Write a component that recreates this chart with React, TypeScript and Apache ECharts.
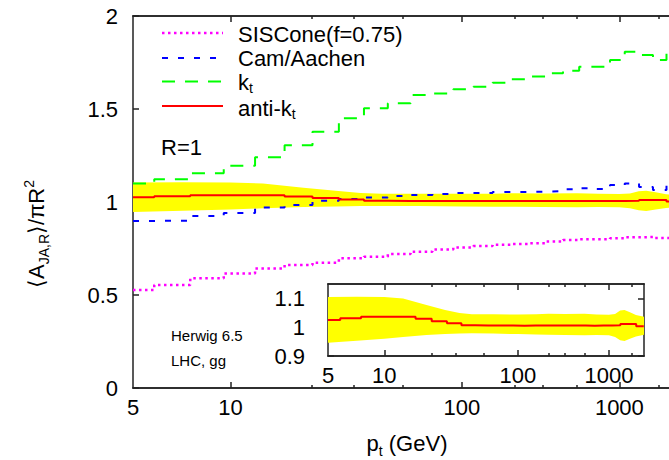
import React, { useEffect, useRef } from "react";
import * as echarts from "echarts";

// x axis is linear in ln ln(pt / LAMBDA)
const LAMBDA = 0.2;
const X_MIN = 5;
const X_MAX = 3000;

const binEdges = [5, 5.75, 7.39, 9.49, 12.18, 15.64, 20.09, 25.79, 33.12, 42.52, 54.6, 70.11, 90.02, 115.58, 148.41, 190.57, 244.69, 314.19, 403.43, 518.01, 665.14, 854.06, 1096.63, 1408.1, 1808.04, 2321.57, 2980.96];

const sisconeVals = [0.527, 0.554, 0.59, 0.616, 0.643, 0.661, 0.674, 0.697, 0.706, 0.72, 0.733, 0.745, 0.756, 0.763, 0.77, 0.774, 0.778, 0.787, 0.796, 0.8, 0.8, 0.805, 0.81, 0.812, 0.806, 0.805];
const camVals = [0.898, 0.9, 0.925, 0.941, 0.971, 0.984, 1.007, 1.016, 1.024, 1.032, 1.038, 1.043, 1.048, 1.048, 1.054, 1.054, 1.056, 1.059, 1.068, 1.074, 1.07, 1.091, 1.1, 1.081, 1.065, 1.109];
const ktVals = [1.1, 1.122, 1.154, 1.195, 1.24, 1.305, 1.378, 1.45, 1.504, 1.531, 1.575, 1.583, 1.606, 1.62, 1.641, 1.66, 1.675, 1.692, 1.706, 1.727, 1.727, 1.763, 1.808, 1.79, 1.763, 1.808];
const antiktVals = [1.025, 1.031, 1.036, 1.036, 1.036, 1.029, 1.021, 1.014, 1.007, 1.006, 1.006, 1.006, 1.005, 1.006, 1.006, 1.006, 1.006, 1.006, 1.006, 1.005, 1.006, 1.006, 1.007, 1.011, 1.011, 1.003];

const bandPt = [5, 7, 10, 13, 18.5, 25, 32, 40, 60, 100, 150, 200, 300, 500, 700, 1000, 1200, 1400, 1600, 1900, 2300, 3000];
const bandHigh = [1.105, 1.106, 1.105, 1.1, 1.077, 1.06, 1.049, 1.045, 1.045, 1.044, 1.045, 1.047, 1.046, 1.047, 1.044, 1.043, 1.046, 1.058, 1.06, 1.052, 1.042, 1.036];
const bandLow = [0.946, 0.953, 0.96, 0.966, 0.973, 0.976, 0.978, 0.979, 0.978, 0.976, 0.975, 0.974, 0.973, 0.972, 0.973, 0.972, 0.966, 0.955, 0.952, 0.96, 0.968, 0.974];

const xLabelValues = [5, 10, 100, 1000];
const xMajorTickValues = [10, 100, 1000];
const xMinorTickValues = [20, 30, 50, 200, 300, 500, 2000];
const yMainTicks = [0, 0.5, 1, 1.5, 2];
const yInsetTicks = [0.9, 1, 1.1];

// token lists: [text, kind] where kind n = normal, s = subscript, p = superscript
type Tok = [string, "n" | "s" | "p"];
const legendRows: { label: Tok[]; color: string; dash: number[] | null }[] = [
  { label: [["SISCone(f=0.75)", "n"]], color: "#ff00ff", dash: [2.5, 3.5] },
  { label: [["Cam/Aachen", "n"]], color: "#0000ff", dash: [6, 10] },
  { label: [["k", "n"], ["t", "s"]], color: "#00ff00", dash: [13, 10] },
  { label: [["anti-k", "n"], ["t", "s"]], color: "#ff0000", dash: null },
];
const xTitle: Tok[] = [["p", "n"], ["t", "s"], [" (GeV)", "n"]];
const yTitle: Tok[] = [["\u27E8A", "n"], ["JA,R", "s"], ["\u27E9/\u03C0R", "n"], ["2", "p"]];

const FONT_NAME = "Liberation Sans";
const FONT = "'Liberation Sans', Arial, Helvetica, sans-serif";
const AXIS_COLOR = "#222";
const MAIN_SIZE = 22;
const SUB_SIZE = 14;

const u = (p: number) => Math.log(Math.log(p / LAMBDA));
const inv = (v: number) => LAMBDA * Math.exp(Math.exp(v));

const axisLineStyle = { color: AXIS_COLOR, width: 1.5 };

function xAxisSet(gridIndex: number) {
  const base = {
    type: "value",
    gridIndex,
    min: u(X_MIN),
    max: u(X_MAX),
    splitLine: { show: false },
    axisLine: { show: true, onZero: false, lineStyle: axisLineStyle },
  };
  const major = { show: true, inside: true, length: 6, customValues: xMajorTickValues.map(u), lineStyle: axisLineStyle };
  const minor = { show: true, inside: true, length: 3, customValues: xMinorTickValues.map(u), lineStyle: axisLineStyle };
  const noLabel = { show: false };
  return [
    {
      ...base,
      position: "bottom",
      axisTick: major,
      axisLabel: {
        show: true,
        customValues: xLabelValues.map(u),
        formatter: (v: number) => String(Math.round(inv(v))),
        margin: 8,
        fontSize: MAIN_SIZE,
        fontFamily: FONT,
        color: "#000",
      },
    },
    { ...base, position: "bottom", axisTick: minor, axisLabel: noLabel },
    { ...base, position: "top", axisTick: major, axisLabel: noLabel },
    { ...base, position: "top", axisTick: minor, axisLabel: noLabel },
  ];
}

function yAxisSet(gridIndex: number, min: number, max: number, ticks: number[], margin: number) {
  const base = {
    type: "value",
    gridIndex,
    min,
    max,
    splitLine: { show: false },
    axisLine: { show: true, onZero: false, lineStyle: axisLineStyle },
    axisTick: { show: true, inside: true, length: 6, customValues: ticks, lineStyle: axisLineStyle },
  };
  return [
    {
      ...base,
      position: "left",
      axisLabel: {
        show: true,
        customValues: ticks,
        margin,
        fontSize: MAIN_SIZE,
        fontFamily: FONT,
        color: "#000",
        formatter: (v: number) => String(Math.round(v * 100) / 100),
      },
    },
    { ...base, position: "right", axisLabel: { show: false } },
  ];
}

const stepData = (vals: number[]) => [
  ...vals.map((v, i) => [u(binEdges[i]), v]),
  [u(binEdges[vals.length]), vals[vals.length - 1]],
];

function bandSeries(xAxisIndex: number, yAxisIndex: number) {
  return {
    type: "custom",
    xAxisIndex,
    yAxisIndex,
    silent: true,
    z: 1,
    data: bandPt.map((p, i) => [u(p), bandLow[i], bandHigh[i]]),
    encode: { x: 0, y: [1, 2] },
    renderItem: (params: any, api: any) => {
      if (params.dataIndex !== 0) return null;
      const upper = bandPt.map((p, i) => api.coord([u(p), bandHigh[i]]));
      const lower = bandPt.map((p, i) => api.coord([u(p), bandLow[i]])).reverse();
      return {
        type: "polygon",
        shape: { points: upper.concat(lower) },
        style: { fill: "#ffff00", stroke: "none" },
      };
    },
  };
}

function stepSeries(name: string, vals: number[], color: string, dash: number[] | null, xAxisIndex: number, yAxisIndex: number, width = 2) {
  return {
    name,
    type: "line",
    xAxisIndex,
    yAxisIndex,
    step: "end",
    showSymbol: false,
    symbol: "none",
    silent: true,
    z: 3,
    data: stepData(vals),
    lineStyle: { color, width, type: dash ? dash : "solid", cap: "butt" },
  };
}

let measureCtx: CanvasRenderingContext2D | null = null;
function textWidth(text: string, size: number) {
  if (!measureCtx) measureCtx = document.createElement("canvas").getContext("2d");
  if (!measureCtx) return text.length * size * 0.55;
  measureCtx.font = `${size}px '${FONT_NAME}'`;
  return measureCtx.measureText(text).width;
}

// builds text elements for a token line; (x, y) is the anchor, y = centre of normal text
function tokenTexts(tokens: Tok[], x: number, y: number, align: "left" | "center", subDy = 8) {
  const widths = tokens.map(([t, k]) => textWidth(t, k === "n" ? MAIN_SIZE : SUB_SIZE));
  const total = widths.reduce((a, b) => a + b, 0);
  let cx = align === "center" ? x - total / 2 : x;
  const out: any[] = [];
  tokens.forEach(([t, k], i) => {
    const size = k === "n" ? MAIN_SIZE : SUB_SIZE;
    const dy = k === "s" ? subDy : k === "p" ? -7 : 0;
    out.push({
      type: "text",
      z: 100,
      x: cx,
      y: y + dy,
      style: { text: t, fontSize: size, fontFamily: FONT, fill: "#000", align: "left", verticalAlign: "middle" },
    });
    cx += widths[i];
  });
  return out;
}

function buildGraphic() {
  const lineY = [33, 58, 81.5, 106];
  const textY = [34, 58.6, 82.4, 108.5];
  const els: any[] = [];
  legendRows.forEach((row, i) => {
    els.push({
      type: "line",
      z: 100,
      shape: { x1: 162, y1: lineY[i], x2: 223, y2: lineY[i] },
      style: { stroke: row.color, lineWidth: i === 0 ? 2.5 : 2, lineDash: row.dash ? row.dash : null },
    });
    els.push(...tokenTexts(row.label, 238, textY[i], "left", 5.5));
  });
  els.push({
    type: "text",
    z: 100,
    x: 161,
    y: 147,
    style: { text: "R=1", fontSize: MAIN_SIZE, fontFamily: FONT, fill: "#000", align: "left", verticalAlign: "middle" },
  });
  els.push({
    type: "text",
    z: 100,
    x: 171,
    y: 335,
    style: { text: "Herwig 6.5", fontSize: 15, fontFamily: FONT, fill: "#000", align: "left", verticalAlign: "middle" },
  });
  els.push({
    type: "text",
    z: 100,
    x: 171,
    y: 360,
    style: { text: "LHC, gg", fontSize: 15, fontFamily: FONT, fill: "#000", align: "left", verticalAlign: "middle" },
  });
  els.push(...tokenTexts(xTitle, 407, 443, "center"));
  els.push({
    type: "group",
    x: 36,
    y: 234,
    rotation: Math.PI / 2,
    children: tokenTexts(yTitle, 0, 0, "center"),
  });
  return els;
}

function buildOption(): any {
  return {
    animation: false,
    backgroundColor: "#fff",
    grid: [
      { left: 133, top: 16, right: -11, bottom: 72, containLabel: false, outerBoundsMode: "none" },
      {
        left: 328,
        top: 284,
        width: 316,
        height: 72,
        containLabel: false,
        outerBoundsMode: "none",
        show: true,
        backgroundColor: "#fff",
        borderWidth: 0,
      },
    ],
    xAxis: [...xAxisSet(0), ...xAxisSet(1)],
    yAxis: [...yAxisSet(0, 0, 2, yMainTicks, 15), ...yAxisSet(1, 0.9, 1.15, yInsetTicks, 23)],
    series: [
      bandSeries(0, 0),
      stepSeries("SISCone(f=0.75)", sisconeVals, "#ff00ff", [2.5, 3.5], 0, 0, 2.5),
      stepSeries("Cam/Aachen", camVals, "#0000ff", [6, 10], 0, 0),
      stepSeries("kt", ktVals, "#00ff00", [13, 10], 0, 0),
      stepSeries("anti-kt", antiktVals, "#ff0000", null, 0, 0),
      bandSeries(4, 2),
      stepSeries("anti-kt inset", antiktVals, "#ff0000", null, 4, 2),
    ],
    graphic: buildGraphic(),
  };
}

export default function App() {
  const ref = useRef<HTMLDivElement>(null);
  useEffect(() => {
    if (!ref.current) return;
    const chart = echarts.init(ref.current, null, { renderer: "svg" });
    chart.setOption(buildOption());
    return () => chart.dispose();
  }, []);
  return (
    <div
      ref={ref}
      style={{ position: "fixed", left: 0, top: 0, width: 669, height: 460, background: "#fff" }}
    />
  );
}
